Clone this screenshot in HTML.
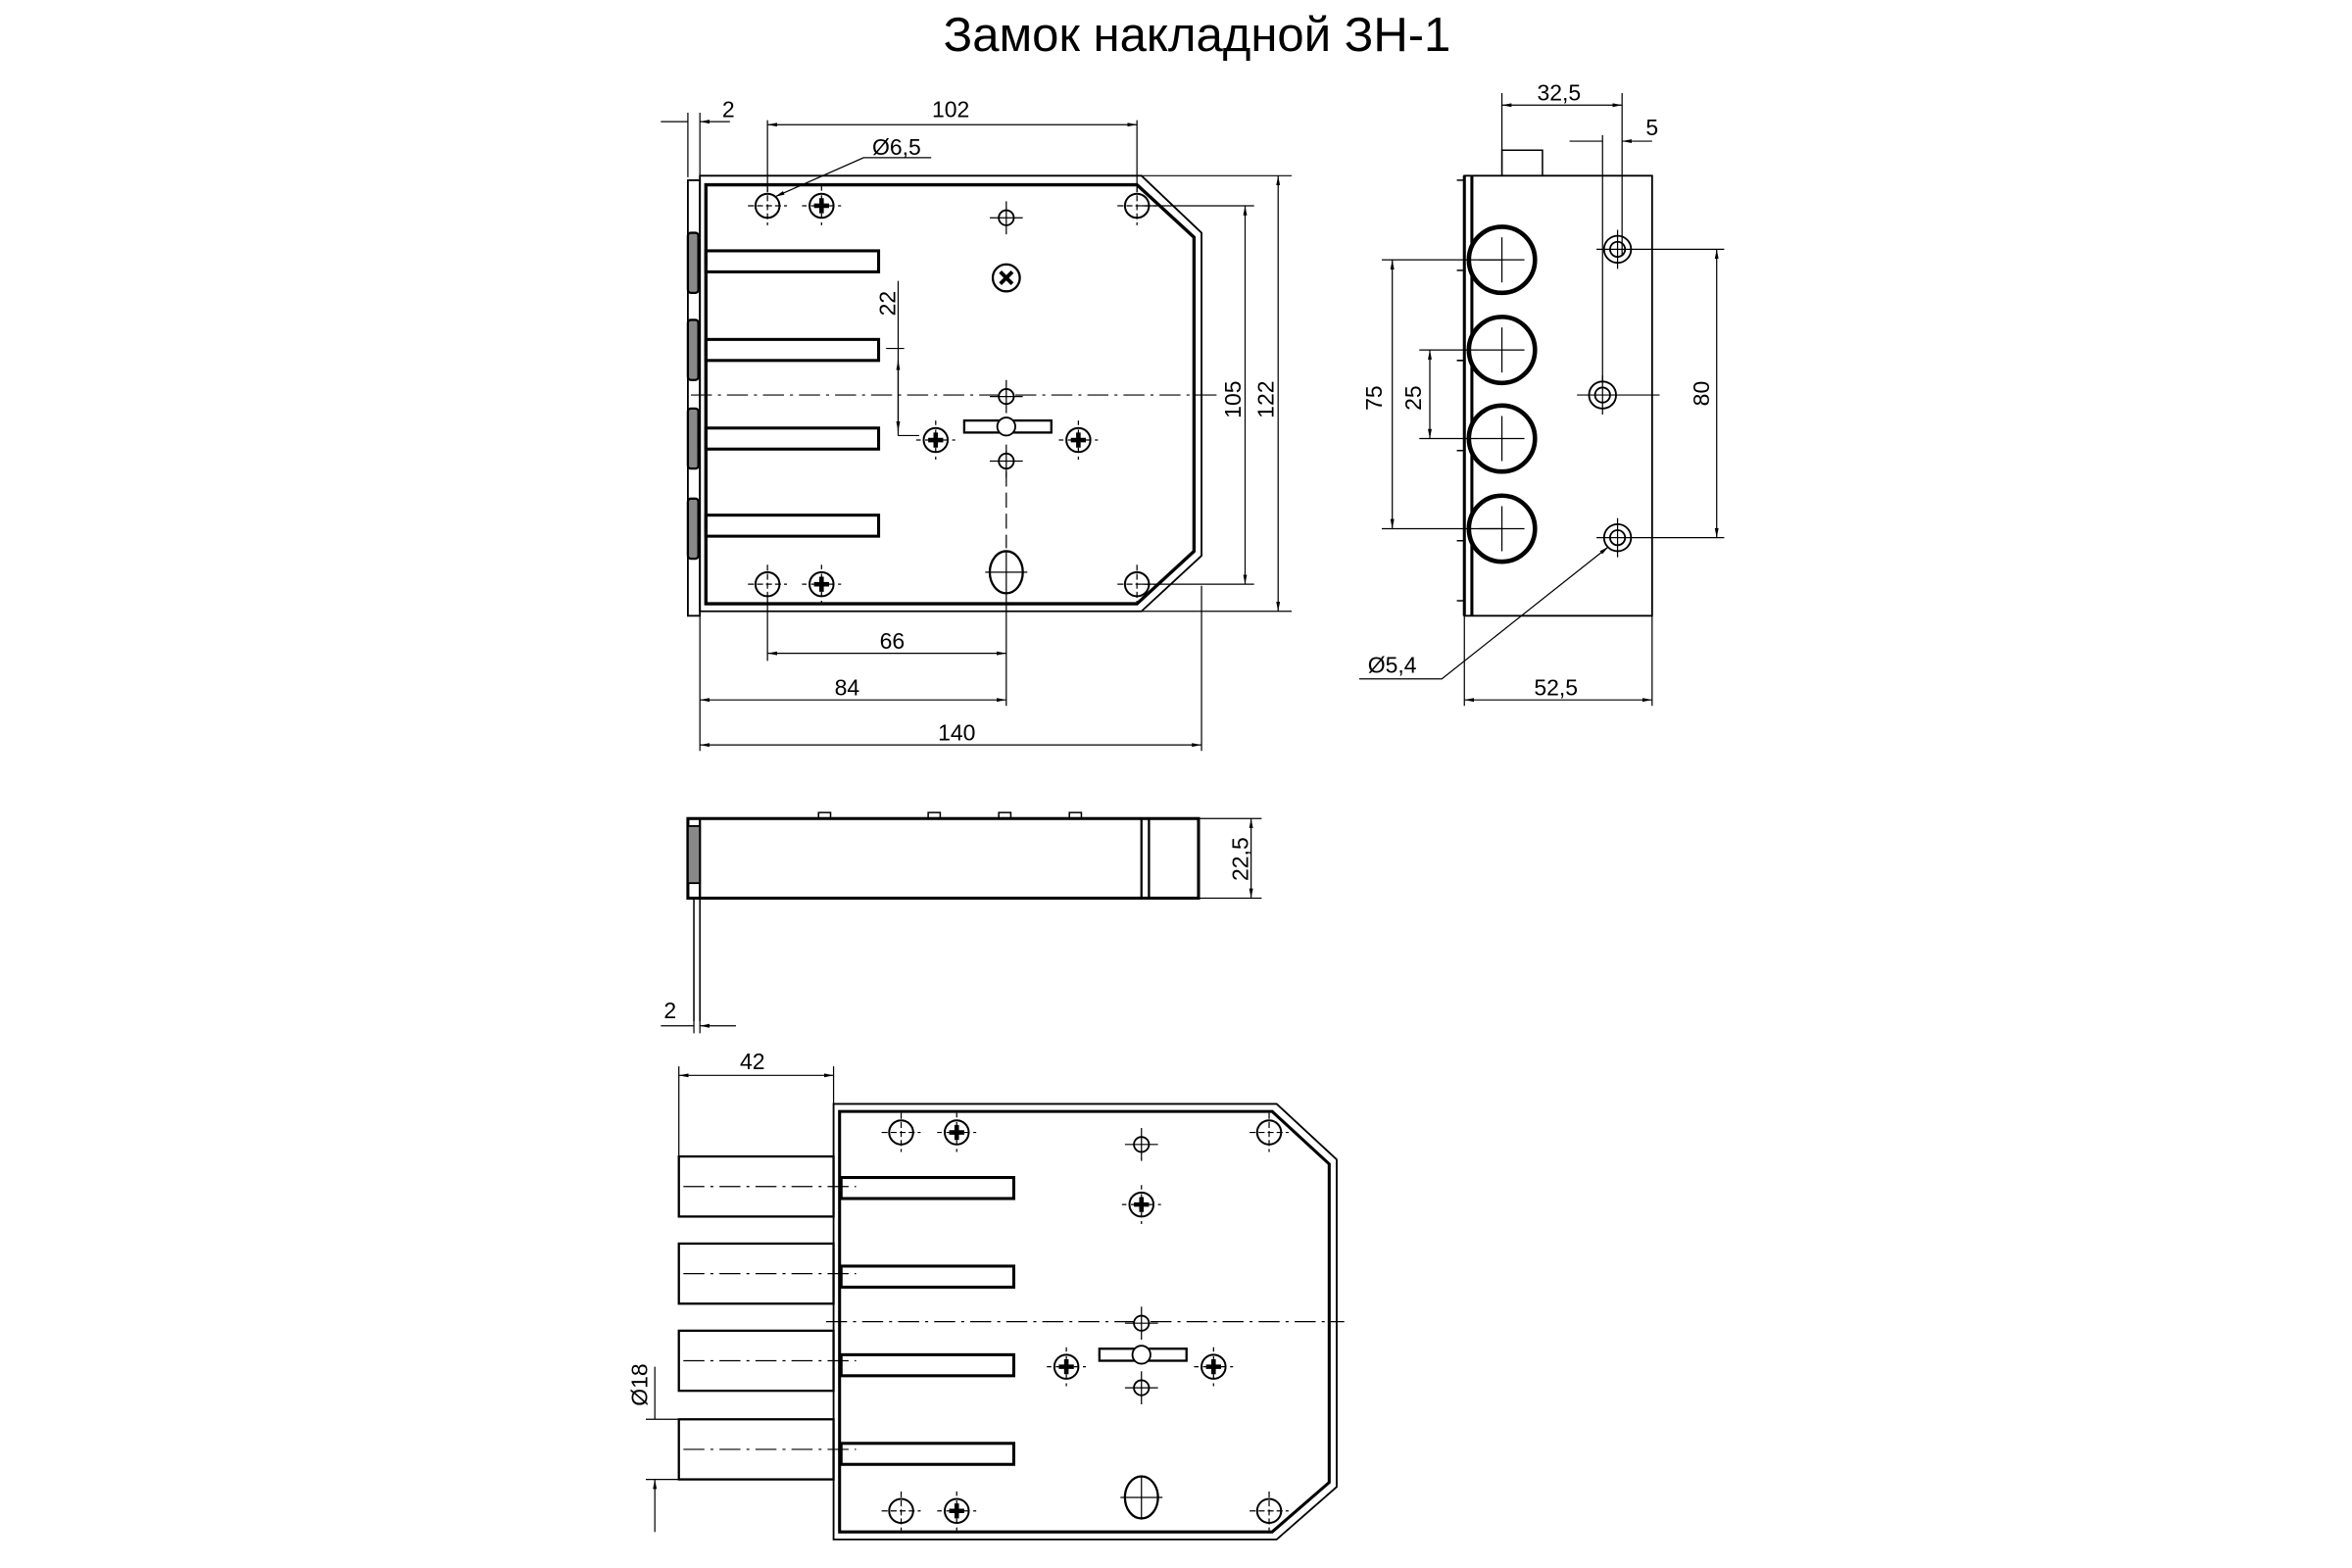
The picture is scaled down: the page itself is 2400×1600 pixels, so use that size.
<!DOCTYPE html>
<html><head><style>html,body{margin:0;padding:0;background:#fff}svg{display:block}</style></head><body>
<svg width="2400" height="1600" viewBox="0 0 1566 1044" xmlns="http://www.w3.org/2000/svg" font-family="Liberation Sans, sans-serif">
<defs>
<marker id="a" viewBox="0 0 10 10" refX="10" refY="5" markerWidth="8" markerHeight="8" orient="auto-start-reverse"><path d="M0,3 L10,5 L0,7z" fill="#000"/></marker>
<g id="h"><circle r="8" fill="#fff" stroke="#000" stroke-width="1.3"/><path d="M-13,0H13M0,-13V13" stroke="#000" stroke-width="0.8" stroke-dasharray="4,2"/></g>
<g id="s"><circle r="8" fill="#fff" stroke="#000" stroke-width="1.3"/><path d="M-5,0H5M0,-5V5" stroke="#000" stroke-width="3"/><path d="M-13,0H13M0,-13V13" stroke="#000" stroke-width="0.8" stroke-dasharray="3,3"/></g>
<g id="sm"><circle r="5" fill="#fff" stroke="#000" stroke-width="1.2"/><path d="M-11,0H11M0,-11V11" stroke="#000" stroke-width="0.8"/></g>
</defs>
<text x="797" y="34" font-size="32" text-anchor="middle">Замок накладной ЗН-1</text>
<g fill="none" stroke="#000" stroke-width="1.2" font-size="14">
<rect x="458" y="120" width="8" height="290"/>
<path d="M466,117 H760 L800,155 V370 L760,407 H466 Z" stroke-width="1.2"/>
<path d="M470,123 H757 L795,158 V367 L757,402 H470 Z" stroke-width="2.2"/>
<g stroke-width="1.5"><rect x="458" y="155" width="7" height="40" rx="2" fill="#888"/><rect x="458" y="213" width="7" height="40" rx="2" fill="#888"/><rect x="458" y="272" width="7" height="40" rx="2" fill="#888"/><rect x="458" y="332" width="7" height="40" rx="2" fill="#888"/></g>
<g stroke-width="2"><rect x="470" y="167" width="115" height="14"/><rect x="470" y="226" width="115" height="14"/><rect x="470" y="285" width="115" height="14"/><rect x="470" y="343" width="115" height="14"/></g>
<path d="M460,263 H810" stroke-width="0.8" stroke-dasharray="14,4,2,4"/>
<path d="M670,300 V365" stroke-width="0.8" stroke-dasharray="10,4"/>
<use href="#h" x="511" y="137"/><use href="#s" x="547" y="137"/><use href="#h" x="757" y="137"/>
<use href="#h" x="511" y="389"/><use href="#s" x="547" y="389"/><use href="#h" x="757" y="389"/>
<use href="#sm" x="670" y="145"/><circle cx="670" cy="185" r="9" stroke-width="1.5"/><path d="M666,181l8,8M674,181l-8,8" stroke-width="2.5"/>
<use href="#sm" x="670" y="264"/><use href="#sm" x="670" y="307"/>
<rect x="642" y="280" width="58" height="8" stroke-width="1.5" fill="#fff"/><circle cx="670" cy="284" r="6" fill="#fff"/>
<use href="#s" x="623" y="293"/><use href="#s" x="718" y="293"/>
<ellipse cx="670" cy="381" rx="11" ry="14" stroke-width="1.5" fill="#fff"/><path d="M656,381H684M670,367V395" stroke-width="0.8"/>
<path d="M458,118 V75 M466,118 V75 M511,128 V80 M757,128 V80 M670,395 V470 M511,398 V440 M466,410 V500 M800,390 V500 M760,117 H860 M760,407 H860 M760,137 H835 M760,389 H835 M590,232 H602 M598,187 V290 M598,290 H612" stroke-width="0.8"/>
<path d="M440,81 H458 M486,81 H466" marker-end="url(#a)" stroke-width="0.8"/>
<path d="M511,83 H757" marker-start="url(#a)" marker-end="url(#a)" stroke-width="0.8"/>
<path d="M620,105 H575 L516,131" marker-end="url(#a)" stroke-width="0.8"/>
<path d="M598,240 V287" marker-start="url(#a)" marker-end="url(#a)" stroke-width="0.8"/>
<path d="M829,137 V389" marker-start="url(#a)" marker-end="url(#a)" stroke-width="0.8"/>
<path d="M851,117 V407" marker-start="url(#a)" marker-end="url(#a)" stroke-width="0.8"/>
<path d="M511,435 H670" marker-start="url(#a)" marker-end="url(#a)" stroke-width="0.8"/>
<path d="M466,466 H670" marker-start="url(#a)" marker-end="url(#a)" stroke-width="0.8"/>
<path d="M466,496 H800" marker-start="url(#a)" marker-end="url(#a)" stroke-width="0.8"/>
</g>
<g font-size="15" text-anchor="middle">
<text x="485" y="78">2</text><text x="633" y="78">102</text><text x="597" y="103">Ø6,5</text>
<text x="594" y="432">66</text><text x="564" y="463">84</text><text x="637" y="493">140</text>
<text transform="translate(596,202) rotate(-90)">22</text>
<text transform="translate(826,266) rotate(-90)">105</text>
<text transform="translate(848,266) rotate(-90)">122</text>
</g>
<g fill="none" stroke="#000" stroke-width="1.2">
<rect x="975" y="117" width="125" height="293"/>
<path d="M975,117 V410 M980,117 V410" stroke-width="2"/>
<path d="M970,120h5M970,180h5M970,240h5M970,300h5M970,360h5M970,400h5" stroke-width="1"/>
<path d="M1000,117 V100 H1027 V117" stroke-width="1"/>
<g fill="#fff" stroke-width="3"><circle cx="1000" cy="173" r="22"/><circle cx="1000" cy="233" r="22"/><circle cx="1000" cy="292" r="22"/><circle cx="1000" cy="352" r="22"/></g>
<g stroke-width="0.8"><path d="M985,173h30M1000,158v30M985,233h30M1000,218v30M985,292h30M1000,277v30M985,352h30M1000,337v30"/></g>
<g fill="#fff" stroke-width="1.2"><circle cx="1077" cy="166" r="9"/><circle cx="1077" cy="166" r="5"/><circle cx="1067" cy="263" r="9"/><circle cx="1067" cy="263" r="5"/><circle cx="1077" cy="358" r="9"/><circle cx="1077" cy="358" r="5"/></g>
<path d="M1050,263h55M1067,250v26M1063,166h85M1077,153v26M1063,358h85M1077,345v26" stroke-width="0.8"/>
<path d="M1000,117V62 M1080,62V170 M1067,90V255 M975,410V470 M1100,410V470 M920,173H1000 M920,352H1000 M945,233H985 M945,292H985" stroke-width="0.8"/>
<path d="M1000,70H1080" marker-start="url(#a)" marker-end="url(#a)" stroke-width="0.8"/>
<path d="M1045,94H1067 M1100,94H1080" marker-end="url(#a)" stroke-width="0.8"/>
<path d="M927,173V352" marker-start="url(#a)" marker-end="url(#a)" stroke-width="0.8"/>
<path d="M952,233V292" marker-start="url(#a)" marker-end="url(#a)" stroke-width="0.8"/>
<path d="M1143,166V358" marker-start="url(#a)" marker-end="url(#a)" stroke-width="0.8"/>
<path d="M905,452H960 L1071,364" marker-end="url(#a)" stroke-width="0.8"/>
<path d="M975,466H1100" marker-start="url(#a)" marker-end="url(#a)" stroke-width="0.8"/>
</g>
<g font-size="15" text-anchor="middle">
<text x="1038" y="67">32,5</text><text x="1100" y="90">5</text><text x="927" y="448">Ø5,4</text><text x="1036" y="463">52,5</text>
<text transform="translate(920,265) rotate(-90)">75</text><text transform="translate(946,265) rotate(-90)">25</text><text transform="translate(1138,262) rotate(-90)">80</text>
</g>
<g fill="none" stroke="#000" stroke-width="1.2">
<rect x="458" y="545" width="340" height="53" stroke-width="2"/>
<path d="M466,545V598 M760,545V598 M765,545V598" stroke-width="1.5"/>
<rect x="458" y="550" width="8" height="38" fill="#888"/>
<path d="M462,598V680 M466,598V680" stroke-width="1"/>
<path d="M545,545v-4h8v4M618,545v-4h8v4M665,545v-4h8v4M712,545v-4h8v4" stroke-width="1"/>
<path d="M798,545H840 M798,598H840 M462,680V688 M466,680V688" stroke-width="0.8"/>
<path d="M833,545V598" marker-start="url(#a)" marker-end="url(#a)" stroke-width="0.8"/>
<path d="M440,683H462 M490,683H466" marker-end="url(#a)" stroke-width="0.8"/>
</g>
<text x="442" y="678" font-size="15">2</text>
<text transform="translate(831,572) rotate(-90)" font-size="15" text-anchor="middle">22,5</text>
<g fill="none" stroke="#000" stroke-width="1.2">
<path d="M555,735 H850 L890,772 V990 L850,1025 H555 Z" stroke-width="1.2"/>
<path d="M559,740 H847 L885,775 V987 L847,1020 H559 Z" stroke-width="2"/>
<g stroke-width="1.5" fill="#fff"><rect x="452" y="770" width="103" height="40"/><rect x="452" y="828" width="103" height="40"/><rect x="452" y="886" width="103" height="40"/><rect x="452" y="945" width="103" height="40"/></g>
<g stroke-width="2"><rect x="560" y="784" width="115" height="14"/><rect x="560" y="843" width="115" height="14"/><rect x="560" y="902" width="115" height="14"/><rect x="560" y="961" width="115" height="14"/></g>
<path d="M455,790H570 M455,848H570 M455,906H570 M455,965H570 M550,880H895" stroke-width="0.8" stroke-dasharray="14,4,2,4"/>
<use href="#h" x="600" y="754"/><use href="#s" x="637" y="754"/><use href="#h" x="845" y="754"/>
<use href="#h" x="600" y="1006"/><use href="#s" x="637" y="1006"/><use href="#h" x="845" y="1006"/>
<use href="#sm" x="760" y="762"/><use href="#s" x="760" y="802"/>
<use href="#sm" x="760" y="881"/><use href="#sm" x="760" y="924"/>
<rect x="732" y="898" width="58" height="8" stroke-width="1.5" fill="#fff"/><circle cx="760" cy="902" r="6" fill="#fff"/>
<use href="#s" x="710" y="910"/><use href="#s" x="808" y="910"/>
<ellipse cx="760" cy="997" rx="11" ry="14" stroke-width="1.5" fill="#fff"/><path d="M746,997H774M760,983V1011" stroke-width="0.8"/>
<path d="M452,770V710 M555,735V710 M430,945H452 M430,985H452" stroke-width="0.8"/>
<path d="M452,716H555" marker-start="url(#a)" marker-end="url(#a)" stroke-width="0.8"/>
<path d="M436,910V945 M436,1020V985" marker-end="url(#a)" stroke-width="0.8"/>
</g>
<text x="501" y="712" font-size="15" text-anchor="middle">42</text>
<text transform="translate(431,922) rotate(-90)" font-size="15" text-anchor="middle">Ø18</text>
</svg>
</body></html>
